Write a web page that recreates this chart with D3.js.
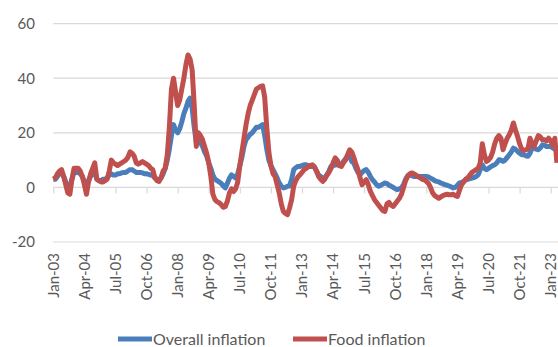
<!DOCTYPE html>
<html>
<head>
<meta charset="utf-8">
<script src="https://cdn.jsdelivr.net/npm/d3@7"></script>
<style>
    body { margin: 0; background: #fff; }
    svg { display: block; font-family: Lato, "Open Sans", sans-serif; }
</style>
</head>
<body>
<script>
// monthly values, Jan-03 .. Apr-23
let overall = [
    3, 3, 4, 5, 5.5, 4, 2, 0.5, 0, 3, 5.5, 5.5,
    5.5, 5, 4, 2, 1, 2.5, 4, 5, 6, 3, 2.5, 2.5,
    3, 3, 3.5, 4.5, 5, 4.5, 4.5, 5, 5, 5.3, 5.5, 5.5,
    6, 6.5, 6.5, 6, 5.5, 5.5, 5.5, 5.3, 5, 5, 4.8, 4.5,
    4.3, 3.5, 3, 2.8, 3.5, 5, 7, 10, 14, 19, 23, 21,
    20, 21.5, 24, 27, 29, 31.5, 32.7, 29, 22, 16.5, 17.5, 16.5,
    15, 13, 11.5, 9, 7, 4.5, 3, 2.5, 2, 1.5, 0.5, -0.2,
    1.5, 3.4, 4.6, 4, 3.4, 5, 8, 11, 15, 17.5, 18.5, 19.5,
    20, 21, 22, 22, 22.5, 23, 19, 14, 10, 8, 6.5, 5,
    3.5, 1.6, 0.5, -0.2, 0, 0.4, 0.5, 3, 6.5, 7.2, 7.7, 7.7,
    8, 8.3, 8.3, 8, 7.7, 7.7, 7.5, 6, 4.6, 4, 3.4, 3.6,
    4.5, 6, 7.7, 8, 8.2, 8.3, 8.3, 8.5, 9.5, 10.5, 11.4, 11.2,
    9.5, 8.9, 7, 5.5, 4.6, 5.5, 6.2, 6.5, 5.5, 4, 2.8, 2,
    1, 0.4, 0.8, 1.2, 1.6, 1.4, 0.8, 0.4, 0, -0.5, -0.8, -0.5,
    -0.2, 1, 3, 4.3, 4.6, 4.3, 4, 4, 4, 4, 4, 4,
    4, 3.8, 3.4, 3, 2.5, 2.2, 2, 1.6, 1.3, 1, 0.8, 0.5,
    0.2, -0.2, 0, 0.8, 1.6, 1.8, 2.2, 2.8, 3, 3.2, 3.4, 3.6,
    4, 4.6, 6.5, 8.3, 7, 6.5, 7, 7.5, 8, 8.3, 9, 10.1,
    10, 9.5, 10, 11, 12, 13, 14.4, 14, 13.2, 12.5, 12, 12,
    11.6, 11.4, 12.5, 14.4, 14.4, 14, 13.8, 14.5, 15.6, 15.4, 15, 15,
    15, 14.5, 14, 14
];

let food = [
    3, 3.5, 5, 6, 6.5, 4, 1, -2, -2.5, 3, 7, 7,
    7, 6, 4, 1, -2.5, 2, 5, 7, 9, 3, 2.5, 2,
    2, 2.5, 3, 6, 10, 9, 8.5, 8, 8.5, 9, 9.5, 10,
    11, 13, 12.5, 11.5, 9, 8.5, 9, 9.5, 9, 8.5, 8, 7,
    6.5, 3.5, 2.5, 2.2, 3.5, 6, 7, 12, 22, 36, 40, 35,
    30, 32, 36, 40, 45, 48.5, 47, 43, 30, 15, 20, 19,
    17.5, 15, 12.5, 9, 4, -2.5, -4.5, -5.2, -5.6, -6.3, -7.3, -7,
    -5, -2, -0.5, -1.5, -0.5, 2, 8, 13, 18, 23, 27, 30,
    32, 34, 36, 36.5, 37, 37.2, 33, 22, 13, 8, 5, 4,
    1, -2, -6, -8.8, -9.5, -10, -7.5, -4.5, 0.5, 2.5, 3.8, 4.6,
    5.5, 6.5, 7, 7.5, 8, 8.3, 7.5, 6, 4, 3, 2.2, 3,
    4.5, 5.5, 7, 9, 10.8, 10, 8, 7.7, 9, 10, 12, 13.8,
    13, 11, 8.5, 6.5, 3.5, 1, 2, 2.8, 1, -1.5, -3, -4.5,
    -5.5, -6.5, -7.5, -8.5, -8.8, -6, -5.5, -6.5, -7, -6, -5, -4,
    -2.5, 0, 2.5, 4, 5, 5.3, 5, 4.5, 4, 3.5, 3, 2.8,
    2.2, 1.5, 0, -2, -3, -3.5, -4, -3.5, -3, -2.7, -2.5, -2.7,
    -2.7, -2.5, -3, -3.3, -1, 1, 2, 3, 3.5, 4.5, 5.5, 6,
    6.5, 7, 9, 16, 12, 9.5, 10, 11, 13, 16, 18, 19,
    18, 13.8, 16, 18, 19.3, 21, 23.6, 21, 18.7, 16, 14, 13.5,
    13.8, 14, 18, 16, 15, 17, 19, 18.5, 17.5, 17.5, 17, 18,
    17, 15.5, 18, 9
];

let xLabels = ["Jan-03", "Apr-04", "Jul-05", "Oct-06", "Jan-08", "Apr-09", "Jul-10", "Oct-11", "Jan-13",
    "Apr-14", "Jul-15", "Oct-16", "Jan-18", "Apr-19", "Jul-20", "Oct-21", "Jan-23"];
let yTicks = [-20, 0, 20, 40, 60];

let width = 558;
let height = 347;
let textColor = "#595959";
let gridColor = "#d9d9d9";

let svg = d3.select("body")
    .append("svg")
    .attr("width", width)
    .attr("height", height);

let x = d3.scaleLinear()
    .domain([0, 240])
    .range([53.3, 550.7]);

let y = d3.scaleLinear()
    .domain([-20, 60])
    .range([242, 23.6]);

// gridlines
svg.append("g")
    .selectAll("line")
    .data(yTicks.filter(d => d !== 0))
    .join("line")
    .attr("x1", x(0))
    .attr("x2", width)
    .attr("y1", d => y(d))
    .attr("y2", d => y(d))
    .style("stroke", gridColor)
    .style("stroke-width", 1.2);

// y labels
svg.append("g")
    .selectAll("text")
    .data(yTicks)
    .join("text")
    .attr("x", 35)
    .attr("y", d => y(d))
    .attr("dy", "0.36em")
    .attr("text-anchor", "end")
    .style("font-size", "15px")
    .style("fill", textColor)
    .text(d => d);

// category axis at zero
let xAxis = d3.axisBottom(x)
    .tickValues(xLabels.map((d, i) => i * 15))
    .tickSize(6)
    .tickFormat("");

let axisG = svg.append("g")
    .attr("transform", `translate(0,${y(0)})`)
    .call(xAxis);
axisG.select(".domain")
    .attr("d", `M${x(0)},0H${width}`)
    .style("stroke", gridColor)
    .style("stroke-width", 1.2);
axisG.selectAll(".tick line")
    .style("stroke", gridColor)
    .style("stroke-width", 1.2);

// x labels at bottom
svg.append("g")
    .selectAll("text")
    .data(xLabels)
    .join("text")
    .attr("transform", (d, i) => `translate(${x(i * 15)},253) rotate(-90)`)
    .attr("dy", "0.36em")
    .attr("text-anchor", "end")
    .style("font-size", "15px")
    .style("fill", textColor)
    .text(d => d);

let line = d3.line()
    .x((d, i) => x(i))
    .y(d => y(d));

svg.append("path")
    .datum(overall)
    .attr("d", line)
    .style("fill", "none")
    .style("stroke", "#4a7ebb")
    .style("stroke-width", 5)
    .style("stroke-linejoin", "round");

svg.append("path")
    .datum(food)
    .attr("d", line)
    .style("fill", "none")
    .style("stroke", "#c0504d")
    .style("stroke-width", 5)
    .style("stroke-linejoin", "round");

// legend
let legend = [
    {name: "Overall inflation", color: "#4a7ebb", x: 118},
    {name: "Food inflation", color: "#c0504d", x: 293}
];

let lg = svg.append("g")
    .selectAll("g")
    .data(legend)
    .join("g")
    .attr("transform", d => `translate(${d.x},339)`);

lg.append("line")
    .attr("x1", 0)
    .attr("x2", 34)
    .style("stroke", d => d.color)
    .style("stroke-width", 5);

lg.append("text")
    .attr("x", 35)
    .attr("dy", "0.36em")
    .style("font-size", "16px")
    .style("fill", textColor)
    .text(d => d.name);
</script>
</body>
</html>
